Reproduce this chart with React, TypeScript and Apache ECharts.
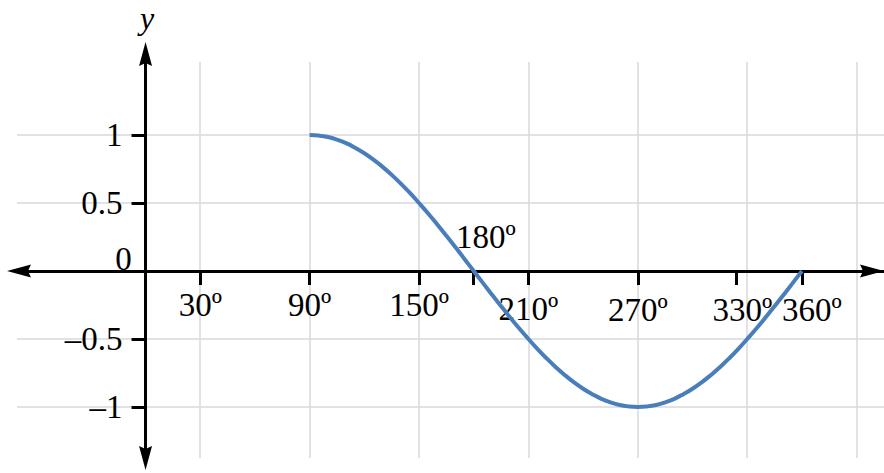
import { useEffect, useRef } from "react";
import * as echarts from "echarts";

// Curve (degrees, y)
const curveX = [90, 95, 100, 105, 110, 115, 120, 125, 130, 135, 140, 145, 150, 155, 160, 165, 170, 175, 180, 185, 190, 195, 200, 205, 210, 215, 220, 225, 230, 235, 240, 245, 250, 255, 260, 265, 270, 275, 280, 285, 290, 295, 300, 305, 310, 315, 320, 325, 330, 335, 340, 345, 350, 355, 360];
const curveY = [
  1, 0.996, 0.985, 0.966, 0.94, 0.906, 0.866, 0.819, 0.766, 0.707, 0.643, 0.574, 0.5, 0.423, 0.342, 0.259, 0.174, 0.087, 0,
  -0.087, -0.174, -0.259, -0.342, -0.423, -0.5, -0.574, -0.643, -0.707, -0.766, -0.819, -0.866, -0.906, -0.94, -0.966, -0.985, -0.996, -1,
  -0.996, -0.985, -0.966, -0.94, -0.906, -0.866, -0.819, -0.766, -0.707, -0.643, -0.574, -0.5, -0.423, -0.342, -0.259, -0.174, -0.087, 0,
];

// x axis ticks / labels (the 330º tick sits a little left of its grid line in the picture)
const xTickValues = [30, 90, 150, 180, 210, 270, 324, 360];
const xLabelValues = [30, 90, 150, 210, 270, 324, 360];
const xLabelTexts = ["30º", "90º", "150º", "210º", "270º", "330º", "360º"];
const xGridValues = [30, 90, 150, 210, 270, 330, 390];

// y axis ticks / labels
const yTickValues = [-1, -0.5, 0.5, 1];
const yLabelTexts = ["–1", "–0.5", "0.5", "1"];
const yGridValues = [-1, -0.5, 0.5, 1];

const zeroLabel = "0";
const crossValue = 180;
const crossLabel = "180º";
const yName = "y";

const X_MIN = -70.5;
const X_MAX = 405;
const Y_MIN = -1.375;
const Y_MAX = 1.537;

const FONT = "'Liberation Serif', 'Times New Roman', serif";
const FS = 33;
const ARROW = "path://M0,0L6.5,24L0,21L-6.5,24Z";

const GRID = { left: 17, right: 0, top: 62, bottom: 15 };
const W = 884;
const H = 473;

export default function App() {
  const ref = useRef<HTMLDivElement>(null);
  useEffect(() => {
    document.body.style.margin = "0";
    if (!ref.current) return;
    const chart = echarts.init(ref.current, null, { renderer: "svg" });
    const base = { fontFamily: FONT, fontSize: FS, color: "#000" };
    const xRichKey: Record<string, string> = {
      "30º": "a", "90º": "a", "150º": "a", "210º": "b", "270º": "c", "330º": "d", "360º": "e",
    };
    // place the axes at the zero lines through the scales
    const gridW = W - GRID.left - GRID.right;
    const gridH = H - GRID.top - GRID.bottom;
    const yZeroFromBottom = ((0 - Y_MIN) / (Y_MAX - Y_MIN)) * gridH;
    const xZeroFromLeft = ((0 - X_MIN) / (X_MAX - X_MIN)) * gridW;
    chart.setOption({
      animation: false,
      grid: { ...GRID, containLabel: false, outerBoundsMode: "none" },
      xAxis: {
        type: "value",
        position: "bottom",
        offset: -yZeroFromBottom,
        min: X_MIN,
        max: X_MAX,
        splitLine: { show: false },
        axisLine: {
          show: true,
          onZero: false,
          lineStyle: { color: "#000", width: 3 },
          symbol: [ARROW, ARROW],
          symbolSize: [13, 24],
          symbolOffset: [2, -12],
        },
        axisTick: { show: true, customValues: xTickValues, length: 14, lineStyle: { color: "#000", width: 3 } },
        axisLabel: {
          show: true,
          customValues: xLabelValues,
          margin: 17,
          hideOverlap: false,
          ...base,
          formatter: (v: number) => {
            const i = xLabelValues.indexOf(v);
            const t = i >= 0 ? xLabelTexts[i] : "";
            return `{${xRichKey[t] || "a"}|${t}}`;
          },
          rich: {
            a: { ...base },
            b: { ...base, padding: [4, 0, 0, 0] },
            c: { ...base, padding: [5, 0, 0, 0] },
            d: { ...base, padding: [5, 0, 0, 12] },
            e: { ...base, padding: [5, 0, 0, 20] },
          },
        },
      },
      yAxis: {
        type: "value",
        position: "left",
        offset: -xZeroFromLeft,
        min: Y_MIN,
        max: Y_MAX,
        name: yName,
        nameLocation: "end",
        nameGap: 44,
        nameTextStyle: {
          ...base,
          fontSize: 32,
          lineHeight: 26,
          fontStyle: "italic",
          align: "center",
          verticalAlign: "middle",
          padding: [0, 0, 0, 3],
        },
        splitLine: { show: false },
        axisLine: {
          show: true,
          onZero: false,
          lineStyle: { color: "#000", width: 3 },
          symbol: [ARROW, ARROW],
          symbolSize: [13, 24],
          symbolOffset: [0, 8],
        },
        axisTick: { show: true, customValues: yTickValues, length: 14, lineStyle: { color: "#000", width: 3 } },
        axisLabel: {
          show: true,
          customValues: yTickValues,
          margin: 23,
          hideOverlap: false,
          ...base,
          formatter: (v: number) => {
            const i = yTickValues.indexOf(v);
            return i >= 0 ? yLabelTexts[i] : "";
          },
        },
      },
      series: [
        {
          type: "line",
          data: curveX.map((x, i) => [x, curveY[i]]),
          smooth: true,
          showSymbol: false,
          symbol: "none",
          z: 2,
          lineStyle: { color: "#4a7ebb", width: 4 },
          silent: true,
          markLine: {
            silent: true,
            z: -1,
            symbol: ["none", "none"],
            label: { show: false },
            lineStyle: { color: "#d9d9d9", width: 1.5, type: "solid" },
            data: [
              ...xGridValues.map((v) => ({ xAxis: v })),
              ...yGridValues.map((v) => ({ yAxis: v })),
            ],
          },
          markPoint: {
            silent: true,
            symbol: "circle",
            symbolSize: 0,
            label: { show: true, ...base },
            data: [
              { coord: [0, 0], label: { formatter: zeroLabel, offset: [-22, -12.5] } },
              { coord: [crossValue, 0], label: { formatter: crossLabel, offset: [12, -34.5] } },
            ],
          },
        },
      ],
    });
    return () => chart.dispose();
  }, []);
  return <div ref={ref} style={{ width: W, height: H }} />;
}
